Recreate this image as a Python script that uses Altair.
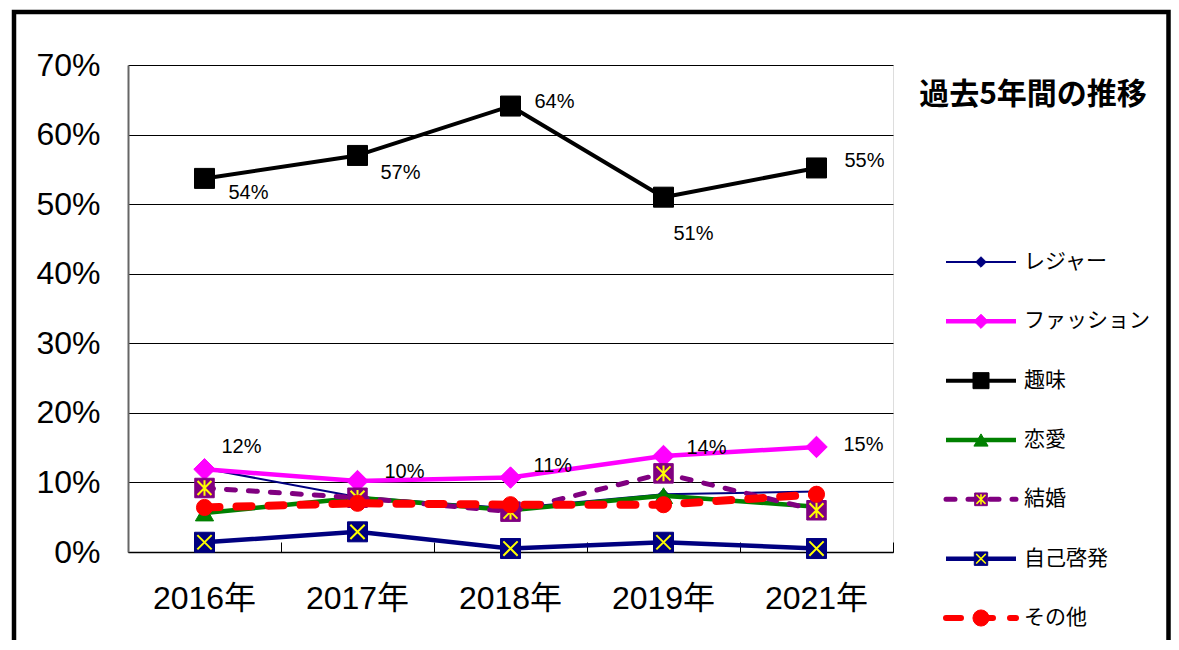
import altair as alt
import pandas as pd

years = ["2016年", "2017年", "2018年", "2019年", "2021年"]
series_names = ["レジャー", "ファッション", "趣味", "恋愛", "結婚", "自己啓発", "その他"]

leisure = [0.120, 0.079, 0.063, 0.083, 0.087]
fashion = [0.119, 0.102, 0.107, 0.138, 0.151]
hobby = [0.537, 0.570, 0.641, 0.510, 0.552]
love = [0.056, 0.078, 0.060, 0.081, 0.065]
marriage = [0.092, 0.078, 0.058, 0.113, 0.060]
self_dev = [0.014, 0.029, 0.005, 0.014, 0.005]
other = [0.064, 0.070, 0.068, 0.068, 0.083]

all_values = [leisure, fashion, hobby, love, marriage, self_dev, other]
labelled_series = ["ファッション", "趣味"]
chart_title = "過去5年間の推移"
y_ticks = [0, 0.1, 0.2, 0.3, 0.4, 0.5, 0.6, 0.7]

# ---- styles ----
X_PATH = "M-0.8,-0.8L0.8,0.8M-0.8,0.8L0.8,-0.8"
AST_PATH = "M-0.8,-0.8L0.8,0.8M-0.8,0.8L0.8,-0.8M0,-0.9L0,0.9"
styles = {
    "レジャー": dict(color="#000080", width=2, dash=None, shape="diamond", size=110, fill="#000080", overlay=None, lsize=110, cap="butt"),
    "ファッション": dict(color="#FF00FF", width=4.5, dash=None, shape="diamond", size=460, fill="#FF00FF", overlay=None, lsize=200, cap="butt"),
    "趣味": dict(color="#000000", width=4, dash=None, shape="square", size=400, fill="#000000", overlay=None, lsize=256, cap="butt"),
    "恋愛": dict(color="#008000", width=4.5, dash=None, shape="triangle-up", size=330, fill="#008000", overlay=None, lsize=200, cap="butt"),
    "結婚": dict(color="#800080", width=5, dash=[9, 13], shape="square", size=380, fill="#800080", overlay=AST_PATH, lsize=160, cap="round"),
    "自己啓発": dict(color="#000080", width=4.5, dash=None, shape="square", size=400, fill="#000080", overlay=X_PATH, lsize=180, cap="butt"),
    "その他": dict(color="#FF0000", width=8, dash=[15, 17], shape="circle", size=260, fill="#FF0000", overlay=None, lsize=260, cap="round"),
}
# label offsets (dx, dy) per series / year index
label_offsets = {
    "ファッション": [(17, -22), (27, -9), (23, -12), (23, -8), (27, -2)],
    "趣味": [(24, 15), (23, 18), (24, -4), (10, 37), (28, -7)],
}

W, H = 765, 487
num_font = "Liberation Sans, Noto Sans CJK JP"
jp_font = "Noto Sans CJK JP"

x_scale = alt.Scale(type="band", domain=years, paddingInner=0, paddingOuter=0)
y_scale = alt.Scale(domain=[0, 0.7], nice=False)

x_axis = alt.Axis(orient="bottom", title=None, labelFont=num_font, labelFontSize=32,
                  labelFontWeight="normal", labelColor="black", labelPadding=31, ticks=False,
                  domainColor="black", domainWidth=1.5, grid=False, labelAngle=0)
x_axis_top = alt.Axis(orient="top", offset=-H, title=None, labels=False, domain=False,
                      ticks=True, tickSize=10, tickColor="black", tickWidth=1,
                      tickBand="extent", grid=False)
y_axis = alt.Axis(orient="left", title=None, values=y_ticks, format=".0%", labelFont=num_font,
                  labelFontSize=32, labelFontWeight="normal", labelColor="black", labelPadding=28,
                  ticks=False, domainColor="#666666", domainWidth=2, grid=True, gridColor="#000000",
                  gridWidth=1)

X_ENC = alt.X("year:N", sort=years, scale=x_scale, axis=x_axis)
Y_ENC = alt.Y("value:Q", scale=y_scale, axis=y_axis)

main_layers = []

# outer frame
frame = alt.Chart(pd.DataFrame({"a": [0]})).mark_rect(
    filled=False, stroke="black", strokeWidth=4.5
).encode(x=alt.value(-114), x2=alt.value(1040.5), y=alt.value(-53), y2=alt.value(700))
main_layers.append(frame)

for i, (name, vals) in enumerate(zip(series_names, all_values)):
    st = styles[name]
    d = pd.DataFrame({"year": years, "value": vals, "series": name})
    base = alt.Chart(d).encode(x=X_ENC, y=Y_ENC)
    line_kw = dict(color=st["color"], strokeWidth=st["width"], strokeJoin="round", strokeCap=st["cap"])
    if st["dash"]:
        line_kw["strokeDash"] = st["dash"]
    main_layers.append(base.mark_line(**line_kw))
    main_layers.append(base.mark_point(shape=st["shape"], size=st["size"], filled=True,
                                       fill=st["fill"], stroke=st["color"], strokeWidth=1, opacity=1))
    if st["overlay"]:
        main_layers.append(base.mark_point(shape=st["overlay"], size=st["size"] * 0.8, filled=False,
                                           stroke="#FFFF00", strokeWidth=2, opacity=1))

for name in labelled_series:
    vals = all_values[series_names.index(name)]
    for j in range(len(years)):
        dx, dy = label_offsets[name][j]
        d = pd.DataFrame({"year": [years[j]], "value": [vals[j]]})
        main_layers.append(
            alt.Chart(d).mark_text(align="left", baseline="middle", dx=dx, dy=dy,
                                   font=num_font, fontSize=20, color="black").encode(
                x=X_ENC, y=Y_ENC,
                text=alt.Text("value:Q", format=".0%"),
            )
        )

main_layers.append(
    alt.Chart(pd.DataFrame({"t": [chart_title]})).mark_text(
        font=jp_font, fontSize=30, fontWeight="bold", color="black", align="center", baseline="middle"
    ).encode(x=alt.value(905), y=alt.value(30), text="t:N")
)

main = alt.layer(*main_layers)

# inward category ticks on the bottom axis line
tick_layer = alt.Chart(pd.DataFrame({"year": years})).mark_point(opacity=0).encode(
    x=alt.X("year:N", sort=years,
            scale=alt.Scale(type="band", domain=years, paddingInner=0, paddingOuter=0),
            axis=x_axis_top),
    y=alt.value(0),
)

# ---- custom legend ----
leg_x_scale = alt.Scale(domain=[0, 1], range=[818, 888])
leg_y_scale = alt.Scale(type="point", domain=series_names, range=[197, 553], padding=0)
legend_layers = []
for name in series_names:
    st = styles[name]
    seg = pd.DataFrame({"x": [0, 1], "series": [name, name]})
    mid = pd.DataFrame({"x": [0.5], "series": [name]})
    end = pd.DataFrame({"x": [1], "series": [name]})
    enc = dict(x=alt.X("x:Q", scale=leg_x_scale, axis=None),
               y=alt.Y("series:N", scale=leg_y_scale, axis=None))
    line_kw = dict(color=st["color"], strokeWidth=min(st["width"], 6), strokeCap=st["cap"])
    if st["dash"]:
        line_kw["strokeDash"] = st["dash"]
    legend_layers.append(alt.Chart(seg).mark_line(**line_kw).encode(**enc))
    legend_layers.append(alt.Chart(mid).mark_point(shape=st["shape"], size=st["lsize"], filled=True,
                                                   fill=st["fill"], stroke=st["color"], strokeWidth=1,
                                                   opacity=1).encode(**enc))
    if st["overlay"]:
        legend_layers.append(alt.Chart(mid).mark_point(shape=st["overlay"], size=st["lsize"] * 0.8,
                                                       filled=False, stroke="#FFFF00", strokeWidth=1.5,
                                                       opacity=1).encode(**enc))
    legend_layers.append(alt.Chart(end).mark_text(align="left", baseline="middle", dx=8, font=jp_font,
                                                  fontSize=21, color="black").encode(
        text="series:N", **enc))

legend = alt.layer(*legend_layers)

chart = alt.layer(main, tick_layer, legend).resolve_scale(x="independent", y="independent").properties(
    width=W, height=H,
    autosize=alt.AutoSizeParams(type="none"),
    padding={"left": 120, "top": 57, "right": 278, "bottom": 88},
).configure_view(stroke="#777777", strokeWidth=1.5).configure(background="white")

chart.save("out.html", embed_options={"renderer": "svg", "actions": False})
